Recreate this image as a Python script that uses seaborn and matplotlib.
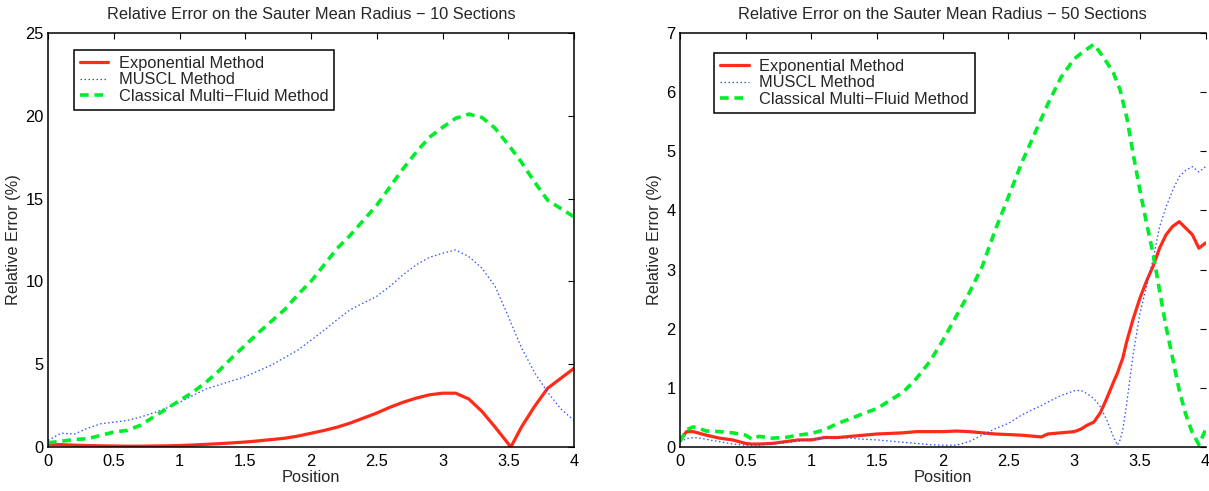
import matplotlib
matplotlib.use("Agg")
import matplotlib.pyplot as plt
import seaborn as sns
import pandas as pd

# ---- 10 sections ----
pos10 = [0.0, 0.1, 0.2, 0.3, 0.4, 0.5, 0.6, 0.7, 0.8, 0.9, 1.0, 1.1, 1.2, 1.3, 1.4, 1.5,
         1.6, 1.7, 1.8, 1.9, 2.0, 2.1, 2.2, 2.3, 2.4, 2.5, 2.6, 2.7, 2.8, 2.9, 3.0, 3.1,
         3.2, 3.3, 3.4, 3.5, 3.52, 3.6, 3.7, 3.8, 3.9, 4.0]
exp10 = [0.15, 0.14, 0.11, 0.09, 0.07, 0.06, 0.05, 0.05, 0.06, 0.07, 0.09, 0.12, 0.16, 0.2,
         0.25, 0.3, 0.37, 0.45, 0.53, 0.66, 0.83, 1.0, 1.2, 1.45, 1.75, 2.05, 2.4, 2.7,
         2.95, 3.15, 3.25, 3.25, 2.9, 2.15, 1.2, 0.2, 0.0, 1.2, 2.45, 3.55, 4.15, 4.75]
muscl10 = [0.4, 0.84, 0.78, 1.13, 1.4, 1.5, 1.6, 1.8, 2.05, 2.35, 2.7, 3.1, 3.5, 3.75,
           4.0, 4.25, 4.6, 4.95, 5.4, 5.85, 6.45, 7.05, 7.7, 8.3, 8.7, 9.1, 9.7, 10.4,
           11.0, 11.45, 11.7, 11.9, 11.5, 10.8, 9.7, 7.9, 7.5, 6.0, 4.5, 3.3, 2.3, 1.6]
classic10 = [0.25, 0.35, 0.45, 0.5, 0.7, 0.9, 1.0, 1.3, 1.8, 2.3, 2.8, 3.3, 3.9, 4.6,
             5.4, 6.15, 6.9, 7.6, 8.3, 9.2, 10.0, 11.0, 12.0, 12.8, 13.7, 14.6, 15.7,
             16.8, 17.8, 18.7, 19.3, 19.85, 20.1, 19.9, 19.25, 18.25, 18.05, 17.2, 16.0,
             14.9, 14.4, 13.9]

# ---- 50 sections ----
pos50 = [0.0, 0.05, 0.1, 0.15, 0.2, 0.3, 0.4, 0.5, 0.55, 0.6, 0.7, 0.8, 0.9, 1.0, 1.1,
         1.2, 1.3, 1.4, 1.5, 1.6, 1.7, 1.8, 1.9, 2.0, 2.1, 2.2, 2.3, 2.4, 2.5, 2.6, 2.7,
         2.75, 2.8, 2.9, 3.0, 3.05, 3.1, 3.15, 3.2, 3.25, 3.3, 3.33, 3.35, 3.37, 3.4,
         3.45, 3.5, 3.55, 3.6, 3.65, 3.7, 3.75, 3.8, 3.85, 3.9, 3.95, 4.0]
exp50 = [0.12, 0.26, 0.26, 0.23, 0.2, 0.15, 0.12, 0.06, 0.05, 0.05, 0.06, 0.09, 0.12,
         0.12, 0.16, 0.16, 0.18, 0.2, 0.22, 0.23, 0.24, 0.26, 0.26, 0.26, 0.27, 0.26,
         0.24, 0.22, 0.21, 0.2, 0.18, 0.17, 0.22, 0.24, 0.26, 0.3, 0.37, 0.42, 0.58,
         0.83, 1.1, 1.25, 1.38, 1.5, 1.78, 2.17, 2.51, 2.8, 3.05, 3.36, 3.59, 3.73, 3.81,
         3.7, 3.59, 3.36, 3.45]
muscl50 = [0.09, 0.14, 0.16, 0.15, 0.13, 0.09, 0.05, 0.03, 0.03, 0.03, 0.05, 0.07, 0.1,
           0.13, 0.15, 0.16, 0.15, 0.13, 0.12, 0.1, 0.08, 0.06, 0.04, 0.03, 0.03, 0.09,
           0.2, 0.31, 0.4, 0.54, 0.65, 0.7, 0.76, 0.87, 0.95, 0.96, 0.9, 0.82, 0.68, 0.45,
           0.17, 0.03, 0.12, 0.29, 0.73, 1.58, 2.25, 2.7, 3.16, 3.72, 4.06, 4.34, 4.57,
           4.68, 4.74, 4.65, 4.74]
classic50 = [0.09, 0.29, 0.34, 0.31, 0.27, 0.26, 0.24, 0.2, 0.13, 0.18, 0.15, 0.16, 0.2,
             0.23, 0.29, 0.4, 0.48, 0.57, 0.65, 0.79, 0.93, 1.16, 1.44, 1.8, 2.2, 2.6,
             3.05, 3.67, 4.23, 4.8, 5.3, 5.55, 5.8, 6.25, 6.56, 6.65, 6.73, 6.81, 6.66,
             6.5, 6.32, 6.15, 6.04, 5.85, 5.58, 4.95, 4.35, 3.8, 3.28, 2.65, 2.03, 1.5,
             0.96, 0.55, 0.24, 0.04, 0.29]

method_names = ["Exponential Method", "MUSCL Method", "Classical Multi\u2212Fluid Method"]
titles = ["Relative Error on the Sauter Mean Radius \u2212 10 Sections",
          "Relative Error on the Sauter Mean Radius \u2212 50 Sections"]
xtick_vals = [0, 0.5, 1, 1.5, 2, 2.5, 3, 3.5, 4]
xtick_labels = ["0", "0.5", "1", "1.5", "2", "2.5", "3", "3.5", "4"]
ytick_left = [0, 5, 10, 15, 20, 25]
ytick_right = [0, 1, 2, 3, 4, 5, 6, 7]

sns.set_theme(style="white")
plt.rcParams["font.family"] = ["Liberation Sans", "DejaVu Sans"]
plt.rcParams["axes.linewidth"] = 1.1
plt.rcParams["lines.scale_dashes"] = True

colors = ["#ff2a18", "#2d4cff", "#00ee2a"]
styles = [dict(linewidth=2.3, linestyle="-"),
          dict(linewidth=0.9, linestyle=(0, (1.2, 2.0))),
          dict(linewidth=2.6, linestyle=(0, (2.4, 1.6)))]

fig = plt.figure(figsize=(12.09, 4.91), dpi=100)
ax_l = fig.add_axes([48 / 1209, 44 / 491, 526 / 1209, 414 / 491])
ax_r = fig.add_axes([680 / 1209, 44 / 491, 525.5 / 1209, 414 / 491])

panels = [
    (ax_l, pos10, [exp10, muscl10, classic10], ytick_left, (0.049, 0.959)),
    (ax_r, pos50, [exp50, muscl50, classic50], ytick_right, (0.065, 0.952)),
]

fs = 11.8
for (ax, xs, series, yt, legpos), title in zip(panels, titles):
    for name, ys, col, st in zip(method_names, series, colors, styles):
        df = pd.DataFrame({"Position": xs, "err": ys})
        sns.lineplot(data=df, x="Position", y="err", ax=ax, color=col, label=name,
                     sort=False, **st)
    ax.set_xlim(0, 4)
    ax.set_ylim(yt[0], yt[-1])
    ax.set_xticks(xtick_vals)
    ax.set_xticklabels(xtick_labels)
    ax.set_yticks(yt)
    ax.set_yticklabels([str(v) for v in yt])
    ax.tick_params(direction="in", length=4.5, width=0.8, top=True, right=True,
                   labelsize=fs, colors="black")
    ax.tick_params(axis="x", pad=5)
    ax.tick_params(axis="y", pad=3)
    ax.set_xlabel("Position", fontsize=fs, labelpad=1)
    ax.set_ylabel("Relative Error (%)", fontsize=fs, labelpad=3)
    ax.set_title(title, fontsize=fs, pad=10)
    for sp in ax.spines.values():
        sp.set_color("black")
        sp.set_linewidth(1.1)
    leg = ax.legend(loc="upper left", bbox_to_anchor=legpos, borderaxespad=0,
                    fontsize=fs, frameon=True, fancybox=False, framealpha=1,
                    edgecolor="black", handlelength=1.75, handletextpad=0.65,
                    labelspacing=0.1, borderpad=0.35)
    leg.get_frame().set_linewidth(1.1)

ax_r.spines["right"].set_visible(False)

fig.savefig("out.png", dpi=100)
